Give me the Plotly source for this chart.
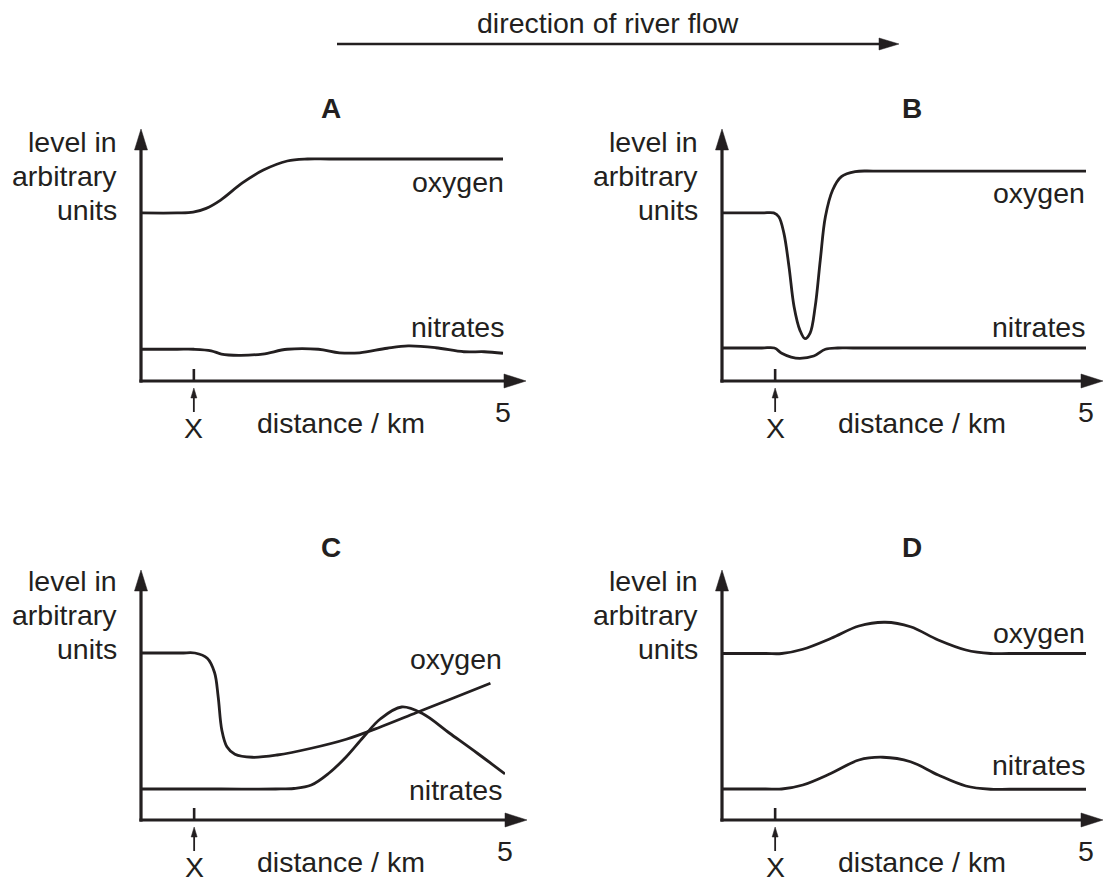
import plotly.graph_objects as go

W, H = 1104, 884
INK = "#231f20"
FONT = "Liberation Sans, Arial, Helvetica, sans-serif"
FS = 28.5

# ---------------- data (distance / km, level in arbitrary units; axis top = 10) ----------------
x_mark_km = 0.73
x_end_km = 5

a_oxy_km = [0, 0.5, 0.72, 0.9, 1.1, 1.4, 1.69, 2.02, 2.3, 2.6, 3.5, 5.0]
a_oxy = [6.67, 6.67, 6.7, 6.85, 7.18, 7.86, 8.37, 8.73, 8.81, 8.81, 8.81, 8.81]
a_nit_km = [0, 0.5, 0.73, 0.97, 1.11, 1.35, 1.68, 2.02, 2.45, 2.74, 3.02, 3.40, 3.69, 4.07, 4.46, 4.74, 5.0]
a_nit = [1.26, 1.26, 1.26, 1.20, 1.07, 1.02, 1.07, 1.26, 1.26, 1.12, 1.12, 1.30, 1.39, 1.32, 1.16, 1.16, 1.10]

b_oxy_km = [0, 0.55, 0.71, 0.78, 0.85, 0.92, 0.99, 1.07, 1.14, 1.21, 1.28, 1.35, 1.42, 1.52, 1.64, 1.83, 2.1, 3.4, 5.0]
b_oxy = [6.67, 6.67, 6.67, 6.52, 5.87, 4.54, 2.95, 2.02, 1.68, 1.90, 2.95, 4.80, 6.52, 7.58, 8.11, 8.31, 8.33, 8.33, 8.33]
b_nit_km = [0, 0.55, 0.72, 0.82, 0.95, 1.07, 1.26, 1.42, 1.59, 1.8, 3.3, 5.0]
b_nit = [1.31, 1.31, 1.31, 1.10, 0.95, 0.90, 0.99, 1.26, 1.31, 1.31, 1.31, 1.31]

c_oxy_km = [0, 0.55, 0.74, 0.91, 1.01, 1.06, 1.11, 1.18, 1.29, 1.53, 1.87, 2.34, 2.82, 3.28, 3.78, 4.24, 4.80]
c_oxy = [6.68, 6.68, 6.68, 6.47, 5.9, 4.93, 3.6, 2.93, 2.63, 2.51, 2.6, 2.87, 3.23, 3.71, 4.29, 4.82, 5.47]
c_nit_km = [0, 1.1, 1.85, 2.10, 2.34, 2.58, 2.82, 3.05, 3.29, 3.58, 3.86, 4.24, 4.62, 5.0]
c_nit = [1.24, 1.24, 1.24, 1.26, 1.40, 1.87, 2.53, 3.3, 4.05, 4.52, 4.27, 3.47, 2.67, 1.84]

d_oxy_km = [0, 0.6, 0.82, 1.11, 1.50, 1.88, 2.24, 2.59, 2.97, 3.35, 3.69, 3.95, 5.0]
d_oxy = [6.66, 6.66, 6.66, 6.83, 7.27, 7.76, 7.91, 7.73, 7.2, 6.8, 6.66, 6.66, 6.66]
d_nit_km = [0, 0.6, 0.82, 1.11, 1.50, 1.88, 2.21, 2.59, 2.97, 3.35, 3.69, 3.95, 5.0]
d_nit = [1.24, 1.24, 1.24, 1.40, 1.87, 2.4, 2.51, 2.33, 1.8, 1.36, 1.23, 1.23, 1.23]

panel_names = ["A", "B", "C", "D"]
series = {
    "A": [(a_oxy_km, a_oxy), (a_nit_km, a_nit)],
    "B": [(b_oxy_km, b_oxy), (b_nit_km, b_nit)],
    "C": [(c_oxy_km, c_oxy), (c_nit_km, c_nit)],
    "D": [(d_oxy_km, d_oxy), (d_nit_km, d_nit)],
}
y_label_lines = ["level in", "arbitrary", "units"]
x_label = "distance / km"
top_label = "direction of river flow"

# ---------------- layout geometry (pixels) ----------------
geo = {
    "A": dict(ox=141, oy=381, x5=503, ytop=129, xtip=526, lab=(505, 192, 337)),
    "B": dict(ox=722, oy=381, x5=1086, ytop=129, xtip=1103, lab=(1086, 203, 337)),
    "C": dict(ox=141, oy=820, x5=505, ytop=570, xtip=527, lab=(503, 669, 800)),
    "D": dict(ox=722, oy=820, x5=1086, ytop=570, xtip=1103, lab=(1086, 643, 775)),
}


def px(x):
    return x / W


def py(y):
    return 1 - y / H


def mid(baseline, fs=FS):
    return baseline - 0.3465 * fs


fig = go.Figure()
shapes = []
annotations = []


def text(x, baseline, s, anchor="center", bold=False, fs=FS):
    annotations.append(dict(
        x=px(x), y=py(mid(baseline, fs)), xref="paper", yref="paper",
        text=f"<b>{s}</b>" if bold else s, showarrow=False,
        xanchor=anchor, yanchor="middle",
        font=dict(family=FONT, size=fs, color=INK), borderpad=0,
    ))


def line(x0, y0, x1, y1, w=3.2):
    shapes.append(dict(type="line", xref="paper", yref="paper",
                       x0=px(x0), y0=py(y0), x1=px(x1), y1=py(y1),
                       line=dict(color=INK, width=w)))


def head(tx, ty, d, length, width):
    if d == "up":
        pts = [(tx, ty), (tx - width / 2, ty + length), (tx + width / 2, ty + length)]
    else:
        pts = [(tx, ty), (tx - length, ty - width / 2), (tx - length, ty + width / 2)]
    path = "M " + " L ".join(f"{px(a):.5f},{py(b):.5f}" for a, b in pts) + " Z"
    shapes.append(dict(type="path", xref="paper", yref="paper", path=path,
                       fillcolor=INK, line=dict(color=INK, width=0.5)))


for i, name in enumerate(panel_names):
    g = geo[name]
    sfx = "" if i == 0 else str(i + 1)
    xa = dict(domain=[px(g["ox"]), px(g["x5"])], range=[0, x_end_km], visible=False,
              anchor="y" + sfx, fixedrange=True)
    ya = dict(domain=[py(g["oy"]), py(g["ytop"])], range=[0, 10], visible=False,
              anchor="x" + sfx, fixedrange=True)
    fig.update_layout(**{"xaxis" + sfx: xa, "yaxis" + sfx: ya})
    for xs, ys in series[name]:
        fig.add_trace(go.Scatter(
            x=xs, y=ys, mode="lines", xaxis="x" + sfx, yaxis="y" + sfx,
            line=dict(color=INK, width=2.8, shape="spline", smoothing=1.0),
            hoverinfo="skip", showlegend=False, cliponaxis=False))

    ox, oy = g["ox"], g["oy"]
    kx = (g["x5"] - ox) / x_end_km
    line(ox, oy + 1.6, ox, g["ytop"] + 19)
    head(ox, g["ytop"], "up", 21, 13)
    line(ox - 1.6, oy, g["xtip"] - 19, oy)
    head(g["xtip"], oy, "right", 22, 14)
    xm = ox + x_mark_km * kx
    line(xm, oy - 12, xm, oy, w=2.6)
    line(xm, oy + 31, xm, oy + 14, w=1.8)
    head(xm, oy + 7, "up", 10, 6)
    text(xm, oy + 57, "X")
    text(ox + 190, oy - 263, name, bold=True, fs=28)
    for j, bl in enumerate([oy - 229, oy - 195, oy - 161]):
        text(ox - 23, bl, y_label_lines[j], anchor="right")
    text(g["x5"], oy + 41, "5")
    text(ox + 200, oy + 52, x_label)
    lx, lo, ln = g["lab"]
    text(lx, lo, "oxygen", anchor="right")
    text(lx, ln, "nitrates", anchor="right")

text(608, 33, top_label)
line(337, 44, 882, 44, w=2.6)
head(899, 44, "right", 20, 12)

fig.update_layout(
    width=W, height=H, margin=dict(l=0, r=0, t=0, b=0),
    paper_bgcolor="white", plot_bgcolor="white",
    shapes=shapes, annotations=annotations, showlegend=False,
)
fig.write_html(
    "out.html",
    config={"displayModeBar": False},
    post_script="document.body.style.margin='0';document.body.style.overflow='hidden';"
                "document.documentElement.style.overflow='hidden';",
)
